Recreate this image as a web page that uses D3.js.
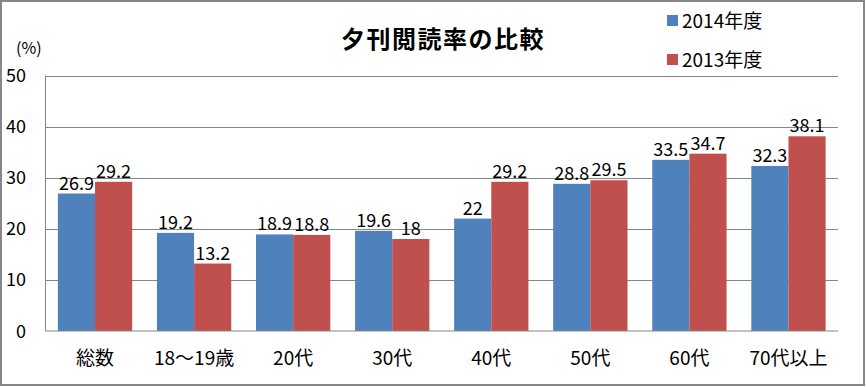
<!DOCTYPE html>
<html>
<head>
<meta charset="utf-8">
<script src="https://cdn.jsdelivr.net/npm/d3@7"></script>
<style>
  html, body { margin: 0; padding: 0; background: #fff; }
  svg { display: block; font-family: "Noto Sans CJK JP", "Noto Sans", sans-serif; }
</style>
</head>
<body>
<svg id="chart" width="866" height="387"></svg>
<script>
// chart data
const categories = ['総数', '18〜19歳', '20代', '30代', '40代', '50代', '60代', '70代以上'];
const values2014 = [26.9, 19.2, 18.9, 19.6, 22, 28.8, 33.5, 32.3];
const values2013 = [29.2, 13.2, 18.8, 18, 29.2, 29.5, 34.7, 38.1];
const seriesNames = ['2014年度', '2013年度'];
const yTicks = [0, 10, 20, 30, 40, 50];

const colors = ['#4F81BD', '#C0504D'];
const svg = d3.select('#chart');
const W = 866, H = 387;
const plot = { left: 45.5, right: 838, top: 75.5, bottom: 331 };

// outer frame
svg.append('rect')
    .attr('x', 1).attr('y', 1).attr('width', W - 3).attr('height', H - 3)
    .attr('fill', '#fff').attr('stroke', '#878787').attr('stroke-width', 2);

const x = d3.scaleBand().domain(categories).range([plot.left, plot.right]).paddingInner(0.25).paddingOuter(0.125);
const xs = d3.scaleBand().domain([0, 1]).range([0, x.bandwidth()]);
const y = d3.scaleLinear().domain([0, 50]).range([plot.bottom, plot.top]);

// gridlines
svg.append('g')
    .selectAll('line')
    .data(yTicks.filter(t => t > 0))
    .join('line')
    .attr('x1', plot.left).attr('x2', plot.right)
    .attr('y1', d => Math.round(y(d)) + 0.5).attr('y2', d => Math.round(y(d)) + 0.5)
    .attr('stroke', '#868686').attr('stroke-width', 1);

// bars + value labels
const series = [values2014, values2013];
series.forEach((vals, si) => {
    const g = svg.append('g');
    g.selectAll('rect')
        .data(vals)
        .join('rect')
        .attr('x', (d, i) => x(categories[i]) + xs(si))
        .attr('width', xs.bandwidth())
        .attr('y', d => y(d))
        .attr('height', d => y(0) - y(d))
        .attr('fill', colors[si]);
    g.selectAll('text')
        .data(vals)
        .join('text')
        .attr('x', (d, i) => x(categories[i]) + xs(si) + xs.bandwidth() / 2)
        .attr('y', d => y(d) - 4)
        .attr('text-anchor', 'middle')
        .attr('font-size', 18)
        .attr('fill', '#000')
        .text(d => d);
});

// axis lines
svg.append('line')
    .attr('x1', plot.left).attr('x2', plot.left)
    .attr('y1', plot.top).attr('y2', plot.bottom)
    .attr('stroke', '#868686');
svg.append('line')
    .attr('x1', plot.left).attr('x2', plot.right)
    .attr('y1', plot.bottom).attr('y2', plot.bottom)
    .attr('stroke', '#868686');

// y tick labels
svg.append('g')
    .selectAll('text')
    .data(yTicks)
    .join('text')
    .attr('x', 26)
    .attr('y', d => y(d) + 6.5)
    .attr('text-anchor', 'end')
    .attr('font-size', 18)
    .text(d => d);

// category labels
svg.append('g')
    .selectAll('text')
    .data(categories)
    .join('text')
    .attr('x', d => x(d) + x.bandwidth() / 2)
    .attr('y', 365)
    .attr('text-anchor', 'middle')
    .attr('font-size', 19)
    .text(d => d);

// unit label
svg.append('text')
    .attr('x', 16).attr('y', 54)
    .attr('font-size', 16)
    .text('(%)');

// title
svg.append('text')
    .attr('x', 443).attr('y', 48)
    .attr('text-anchor', 'middle')
    .attr('font-size', 24)
    .attr('letter-spacing', 1.5)
    .attr('font-weight', 'bold')
    .text('夕刊閲読率の比較');

// legend
const legend = svg.append('g');
seriesNames.forEach((name, i) => {
    const ly = 20.5 + i * 39;
    legend.append('rect')
        .attr('x', 667).attr('y', ly - 5.5).attr('width', 11).attr('height', 11)
        .attr('fill', colors[i]);
    legend.append('text')
        .attr('x', 682).attr('y', ly + 7)
        .attr('font-size', 19)
        .text(name);
});
</script>
</body>
</html>
